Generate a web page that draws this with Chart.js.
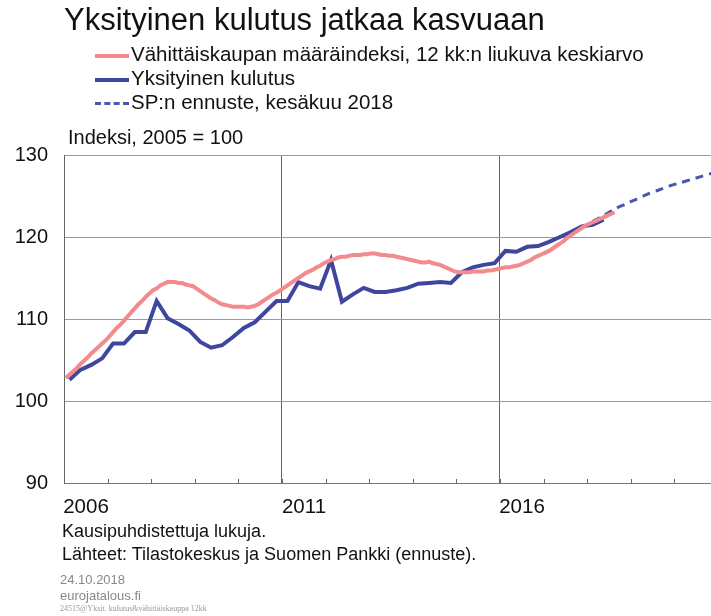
<!DOCTYPE html>
<html>
<head>
<meta charset="utf-8">
<script src="https://cdn.jsdelivr.net/npm/chart.js@4"></script>
<style>
  html, body { margin: 0; padding: 0; background: #fff; overflow: hidden; }
  #wrap { position: relative; width: 711px; height: 616px; font-family: "Liberation Sans", Arial, sans-serif; color: #111; }
  #wrap canvas { position: absolute; left: 0; top: 0; }
  .t { position: absolute; white-space: nowrap; }
  .leg { position: absolute; left: 95px; width: 34px; height: 0; }
</style>
</head>
<body>
<div id="wrap">
  <canvas id="chart" width="711" height="616"></canvas>
  <div class="t" style="left:64px; top:2px; font-size:31px;">Yksityinen kulutus jatkaa kasvuaan</div>
  <div class="leg" style="top:54px; border-top:4px solid #f28a8e;"></div>
  <div class="t" style="left:131px; top:42px; font-size:20.5px;">Vähittäiskaupan määräindeksi, 12 kk:n liukuva keskiarvo</div>
  <div class="leg" style="top:78px; border-top:4px solid #3e469e;"></div>
  <div class="t" style="left:131px; top:66px; font-size:20.5px;">Yksityinen kulutus</div>
  <div class="leg" style="top:102px; border-top:3px dashed #4b55aa;"></div>
  <div class="t" style="left:131px; top:90px; font-size:20.5px;">SP:n ennuste, kesäkuu 2018</div>
  <div class="t" style="left:68px; top:126px; font-size:20px;">Indeksi, 2005 = 100</div>
  <div class="t" style="left:62px; top:521px; font-size:18px;">Kausipuhdistettuja lukuja.</div>
  <div class="t" style="left:62px; top:544px; font-size:18px;">Lähteet: Tilastokeskus ja Suomen Pankki (ennuste).</div>
  <div class="t" style="left:60px; top:572px; font-size:13px; color:#888;">24.10.2018</div>
  <div class="t" style="left:60px; top:588px; font-size:13px; color:#888;">eurojatalous.fi</div>
  <div class="t" style="left:60px; top:604px; font-size:8px; color:#999; font-family:'Liberation Serif',serif;">24515@Yksit. kulutus&amp;vähittäiskauppa 12kk</div>
</div>
<script>
// Retail trade volume index, 12-month moving average, monthly from Jan 2006
const retailStart = 2006;
const retailValues = [
  102.8, 103.2, 103.6, 104.0, 104.5, 104.9, 105.3, 105.8, 106.2, 106.6, 107.0, 107.4,
  107.9, 108.4, 108.9, 109.3, 109.8, 110.3, 110.8, 111.3, 111.8, 112.2, 112.7, 113.1,
  113.5, 113.7, 114.1, 114.3, 114.5, 114.5, 114.5, 114.4, 114.4, 114.2, 114.1, 114.0,
  113.7, 113.4, 113.1, 112.8, 112.5, 112.3, 112.0, 111.8, 111.7, 111.6, 111.5, 111.5,
  111.5, 111.5, 111.4, 111.5, 111.6, 111.8, 112.1, 112.4, 112.7, 113.0, 113.2, 113.5,
  113.8, 114.1, 114.4, 114.7, 115.0, 115.3, 115.6, 115.8, 116.0, 116.3, 116.5, 116.8,
  117.0, 117.2, 117.3, 117.5, 117.6, 117.6, 117.7, 117.8, 117.8, 117.8, 117.9, 117.9,
  118.0, 118.0, 117.9, 117.8, 117.8, 117.7, 117.7, 117.6, 117.5, 117.4, 117.3, 117.2,
  117.1, 117.0, 116.9, 116.9, 117.0, 116.8, 116.7, 116.6, 116.4, 116.2, 116.0, 115.8,
  115.7, 115.7, 115.7, 115.7, 115.8, 115.8, 115.8, 115.8, 115.9, 115.9, 116.0, 116.1,
  116.2, 116.3, 116.3, 116.4, 116.5, 116.6, 116.8, 117.0, 117.2, 117.5, 117.7, 117.9,
  118.1, 118.3, 118.6, 118.9, 119.2, 119.5, 119.9, 120.2, 120.5, 120.8, 121.1, 121.4,
  121.6, 121.8, 122.0, 122.2, 122.4, 122.6, 122.8, 123.0
];

// Private consumption, quarterly from 2006Q1
const consStart = 2006;
const consValues = [
  102.6, 103.8, 104.4, 105.2,
  107.0, 107.0, 108.4, 108.4,
  112.2, 110.1, 109.4, 108.6,
  107.2, 106.5, 106.8, 107.8,
  108.9, 109.6, 110.9, 112.2,
  112.2, 114.5, 114.0, 113.7,
  117.2, 112.1, 113.0, 113.8,
  113.3, 113.3, 113.5, 113.8,
  114.3, 114.4, 114.5, 114.4,
  115.7, 116.3, 116.6, 116.8,
  118.3, 118.2, 118.8, 118.9,
  119.4, 120.0, 120.6, 121.3,
  121.5, 122.1
];

// Bank of Finland forecast (June 2018), quarterly from 2018Q1
const fcStart = 2018;
const fcValues = [
  121.9, 122.6, 123.4, 124.0,
  124.6, 125.2, 125.7, 126.2,
  126.6, 127.0, 127.4, 127.8
];

const yearLabels = [2006, 2011, 2016];

const PINK = '#f28a8e';
const BLUE = '#3e469e';
const BLUE_DASH = '#4b55aa';

function toPoints(start, perYear, values) {
  return values.map((v, i) => ({ x: start + (i + 0.5) / perYear, y: v }));
}

// small year ticks pointing up from the bottom axis
const innerTicks = {
  id: 'innerTicks',
  afterDraw(chart) {
    const x = chart.scales.x;
    const ctx = chart.ctx;
    const bottom = chart.chartArea.bottom;
    ctx.save();
    ctx.strokeStyle = '#666';
    ctx.lineWidth = 1;
    x.ticks.forEach(t => {
      const px = Math.round(x.getPixelForValue(t.value)) + 0.5;
      ctx.beginPath();
      ctx.moveTo(px, bottom);
      ctx.lineTo(px, bottom - 4);
      ctx.stroke();
    });
    ctx.restore();
  }
};

const ctx = document.getElementById('chart').getContext('2d');
new Chart(ctx, {
  type: 'line',
  data: {
    datasets: [
      {
        label: 'Vähittäiskaupan määräindeksi, 12 kk:n liukuva keskiarvo',
        data: toPoints(retailStart, 12, retailValues),
        borderColor: PINK,
        borderWidth: 4,
        pointRadius: 0,
        tension: 0
      },
      {
        label: 'Yksityinen kulutus',
        data: toPoints(consStart, 4, consValues),
        borderColor: BLUE,
        borderWidth: 4,
        pointRadius: 0,
        tension: 0
      },
      {
        label: 'SP:n ennuste, kesäkuu 2018',
        data: toPoints(fcStart, 4, fcValues),
        borderColor: BLUE_DASH,
        borderWidth: 3,
        borderDash: [8, 6],
        pointRadius: 0,
        tension: 0.3
      }
    ]
  },
  options: {
    responsive: false,
    animation: false,
    events: [],
    layout: { padding: { top: 155, right: 0, bottom: 0, left: 0 } },
    plugins: { legend: { display: false }, tooltip: { enabled: false } },
    scales: {
      x: {
        type: 'linear',
        min: 2006,
        max: 2020.84,
        afterFit: s => { s.height = 133; },
        afterBuildTicks: s => {
          const t = [];
          for (let y = 2006; y <= 2020; y++) t.push({ value: y });
          s.ticks = t;
        },
        ticks: {
          autoSkip: false,
          maxRotation: 0,
          padding: 12,
          labelOffset: 22,
          color: '#111',
          font: { family: 'Liberation Sans', size: 20.5 },
          callback: v => yearLabels.includes(v) ? String(v) : ''
        },
        grid: {
          drawTicks: false,
          color: c => (c.tick && yearLabels.includes(c.tick.value)) ? '#666' : 'rgba(0,0,0,0)',
          lineWidth: 1
        },
        border: { color: '#777', width: 1 }
      },
      y: {
        min: 90,
        max: 130,
        afterFit: s => { s.width = 64; },
        ticks: {
          stepSize: 10,
          padding: 16,
          color: '#111',
          font: { family: 'Liberation Sans', size: 20 }
        },
        grid: { drawTicks: false, color: '#999', lineWidth: 1 },
        border: { color: '#666', width: 1 }
      }
    }
  },
  plugins: [innerTicks]
});
</script>
</body>
</html>
